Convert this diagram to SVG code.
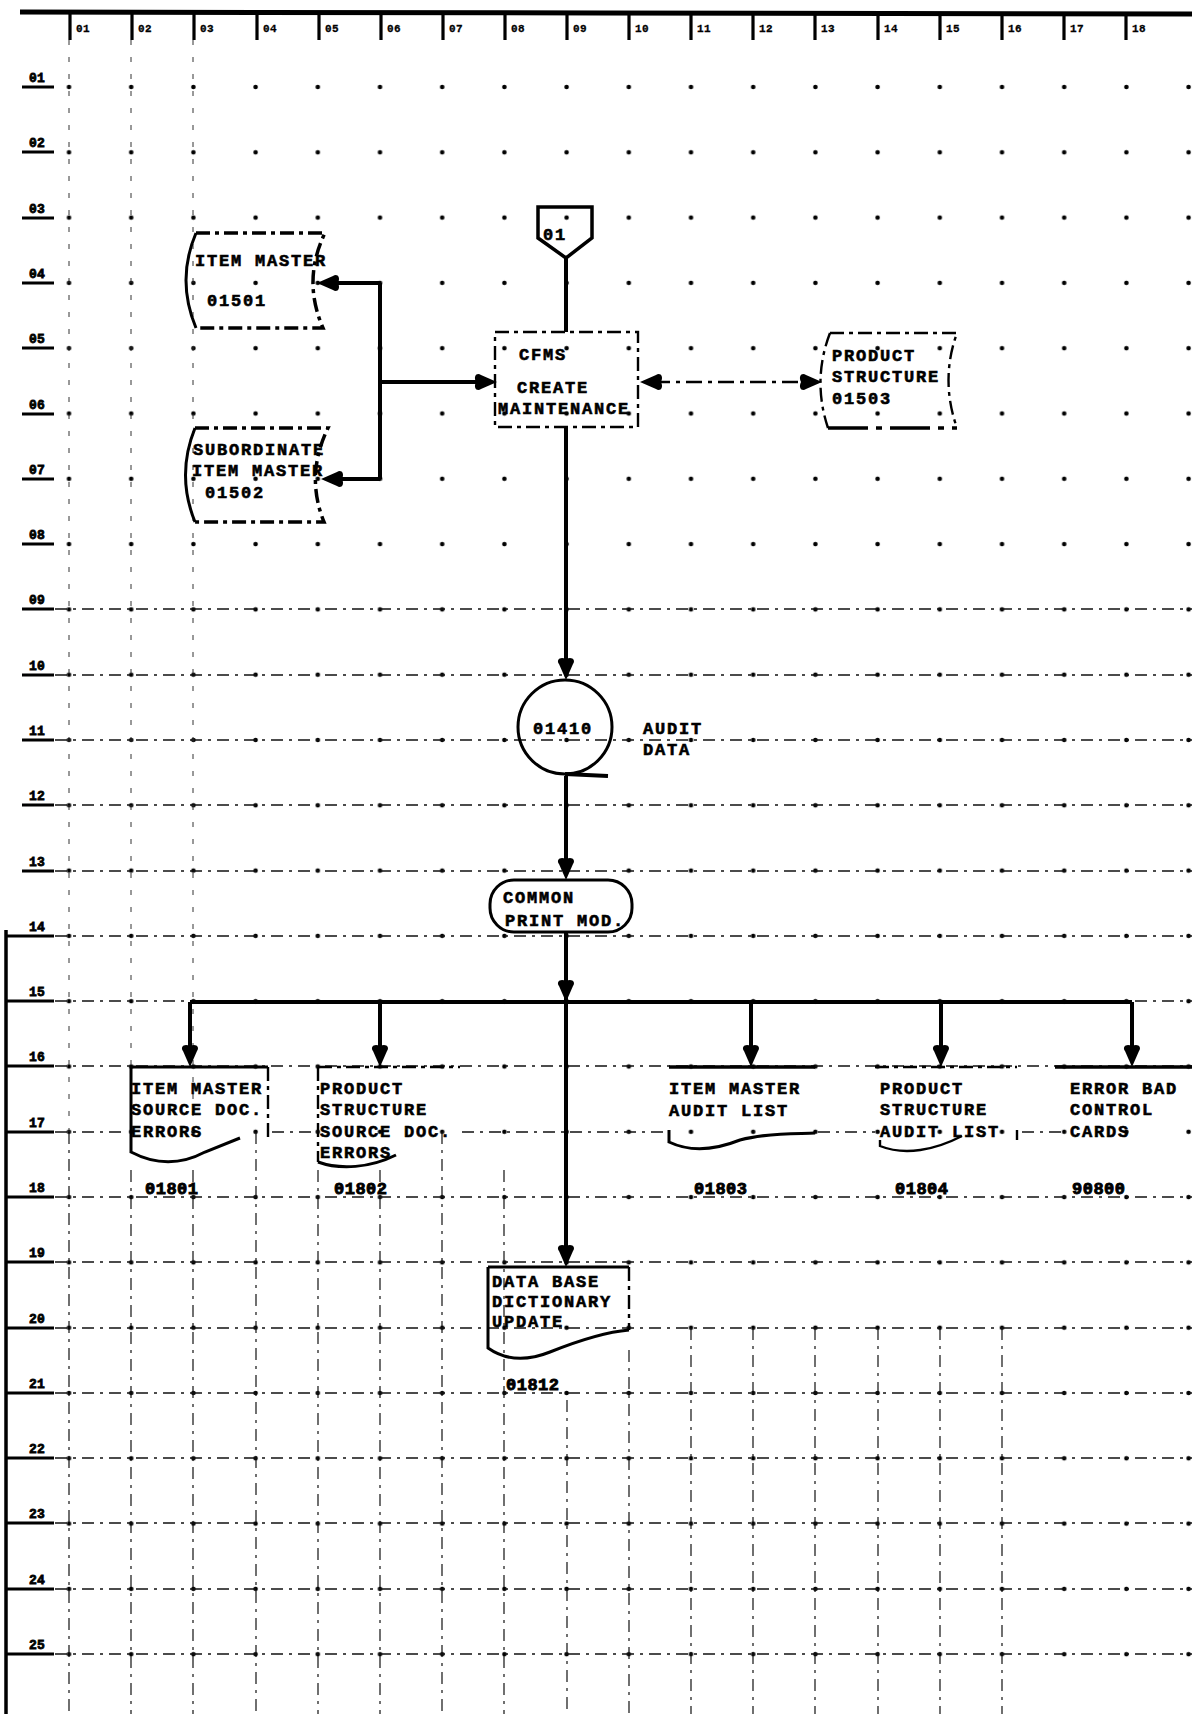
<svg xmlns="http://www.w3.org/2000/svg" width="1192" height="1714" viewBox="0 0 1192 1714">
<style>
.t{font-family:"Liberation Mono","DejaVu Sans Mono",monospace;font-weight:bold;font-size:17px;letter-spacing:1.8px;fill:#000;stroke:#000;stroke-width:0.6px}
.num{font-size:17px;letter-spacing:0.5px;stroke-width:0.9px}
.rl{font-size:13px;letter-spacing:0.3px;stroke-width:0.8px}
.cl{font-size:11px;letter-spacing:0.3px;stroke-width:0.3px}
.conn{stroke:#000;stroke-width:4;fill:none}
.dconn{stroke:#000;stroke-width:2.5;fill:none;stroke-dasharray:16 6 4 6}
.node{stroke:#000;stroke-width:2.4;fill:none}
.dash{stroke-dasharray:14 5 4 5}
.solid{stroke-width:3}
.thick{stroke-width:3.5}
.gh{stroke:#111;stroke-width:1.3;fill:none;stroke-dasharray:12 6 3 6}
.gv{stroke:#111;stroke-width:1.2;fill:none;stroke-dasharray:12 6 3 6}
.gvf{stroke:#333;stroke-width:1;fill:none;stroke-dasharray:5 12}
.ul{stroke:#000;stroke-width:2.8}
.tick{stroke:#000;stroke-width:3.2}
</style>
<defs>
<pattern id="dots" patternUnits="userSpaceOnUse" x="37.9" y="54.35" width="62.2" height="65.3">
<circle cx="31.1" cy="32.65" r="2.3" fill="#000"/>
</pattern>
<marker id="ah" viewBox="-3 -11 27 22" refX="8" refY="0" markerWidth="27" markerHeight="22" markerUnits="userSpaceOnUse" orient="auto-start-reverse">
<path d="M22,0 L6,-7 C2,-10 -2,-6 1,0 C-2,6 2,10 6,7 Z" fill="#000"/>
</marker>
</defs>
<rect width="1192" height="1714" fill="#fff"/>

<g id="grid">
<rect x="38" y="54" width="1154" height="1660" fill="url(#dots)"/>
<path class="gh" d="M55,609H1192M55,675H1192M55,740H1192M55,805H1192M55,871H1192M55,936H1192M55,1001H1192M55,1066H1192M55,1197H1192M55,1262H1192M55,1328H1192M55,1393H1192M55,1458H1192M55,1523H1192M55,1589H1192M55,1654H1192"/>
<path class="gh" d="M55,1132H126M272,1132H315M462,1132H665M818,1132H875M1022,1132H1066"/>
<path class="gvf" d="M69,40V1132M131,40V1132M193,40V1132"/>
<path class="gv" d="M69,1132V1714M131,1170V1714M193,1170V1714M256,1132V1714M318,1170V1714M380,1170V1714M442,1132V1714M504,1170V1714M567,1400V1714"/>
<path class="gv" d="M629,1350V1714M691,1328V1714M753,1328V1714M815,1328V1714M878,1328V1714M940,1328V1714M1002,1328V1714"/>
</g>

<g id="frame">
<path d="M20,12 L600,13 L1192,14" stroke="#000" stroke-width="5" fill="none"/>
<path d="M6,930 V1714" stroke="#000" stroke-width="3.5" fill="none"/>
<path class="tick" d="M70,12V40M132,12V40M194,12V40M257,12V40M319,12V40M381,12V40M443,12V40M505,12V40M567,12V40M629,12V40M691,12V40M753,12V40M815,12V40M878,12V40M940,12V40M1002,12V40M1064,12V40M1126,12V40"/>
<g class="t cl">
<text x="76" y="32">01</text><text x="138" y="32">02</text><text x="200" y="32">03</text><text x="263" y="32">04</text><text x="325" y="32">05</text><text x="387" y="32">06</text><text x="449" y="32">07</text><text x="511" y="32">08</text><text x="573" y="32">09</text><text x="635" y="32">10</text><text x="697" y="32">11</text><text x="759" y="32">12</text><text x="821" y="32">13</text><text x="884" y="32">14</text><text x="946" y="32">15</text><text x="1008" y="32">16</text><text x="1070" y="32">17</text><text x="1132" y="32">18</text>
</g>
<path class="ul" d="M22,87H54M22,152H54M22,218H54M22,283H54M22,348H54M22,414H54M22,479H54M22,544H54M22,609H54M22,675H54M22,740H54M22,805H54M22,871H54M6,936H54M6,1001H54M6,1066H54M6,1132H54M6,1197H54M6,1262H54M6,1328H54M6,1393H54M6,1458H54M6,1523H54M6,1589H54M6,1654H54"/>
<g class="t rl">
<text x="29" y="82">01</text><text x="29" y="147">02</text><text x="29" y="213">03</text><text x="29" y="278">04</text><text x="29" y="343">05</text><text x="29" y="409">06</text><text x="29" y="474">07</text><text x="29" y="539">08</text><text x="29" y="604">09</text><text x="29" y="670">10</text><text x="29" y="735">11</text><text x="29" y="800">12</text><text x="29" y="866">13</text><text x="29" y="931">14</text><text x="29" y="996">15</text><text x="29" y="1061">16</text><text x="29" y="1127">17</text><text x="29" y="1192">18</text><text x="29" y="1257">19</text><text x="29" y="1323">20</text><text x="29" y="1388">21</text><text x="29" y="1453">22</text><text x="29" y="1518">23</text><text x="29" y="1584">24</text><text x="29" y="1649">25</text>
</g>
</g>

<g id="connectors">
<path class="conn" d="M566,258V332"/>
<path class="conn" d="M380,283V479"/>
<path class="conn" d="M380,283H331" marker-end="url(#ah)"/>
<path class="conn" d="M380,479H335" marker-end="url(#ah)"/>
<path class="conn" d="M380,382H483" marker-end="url(#ah)"/>
<path class="dconn" d="M654,382H808" marker-start="url(#ah)" marker-end="url(#ah)"/>
<path class="conn" d="M566,427V666" marker-end="url(#ah)"/>
<path class="conn" d="M566,776V866" marker-end="url(#ah)"/>
<path class="conn" d="M566,932V988" marker-end="url(#ah)"/>
<path class="conn" d="M566,990V1253" marker-end="url(#ah)"/>
<path class="conn" d="M190,1002H1132"/>
<path class="conn" d="M190,1002V1053" marker-end="url(#ah)"/>
<path class="conn" d="M380,1002V1053" marker-end="url(#ah)"/>
<path class="conn" d="M751,1002V1053" marker-end="url(#ah)"/>
<path class="conn" d="M941,1002V1053" marker-end="url(#ah)"/>
<path class="conn" d="M1132,1002V1053" marker-end="url(#ah)"/>
</g>

<g id="n-connector-01">
<path class="node thick" d="M538,207H592V238L566,258L538,238Z"/>
<text class="t" x="543" y="240">01</text>
</g>

<g id="n-item-master">
<path class="node dash thick" d="M196,233H325Q302,280 323,328H196"/>
<path class="node solid" d="M196,233Q176,280 196,328"/>
<text class="t" x="195" y="266">ITEM MASTER</text>
<text class="t" x="207" y="306">01501</text>
</g>

<g id="n-subordinate">
<path class="node dash thick" d="M195,428H328Q305,475 324,522H195"/>
<path class="node solid" d="M195,428Q176,475 195,522"/>
<text class="t" x="193" y="455">SUBORDINATE</text>
<text class="t" x="192" y="476">ITEM MASTER</text>
<text class="t" x="205" y="498">01502</text>
</g>

<g id="n-cfms">
<rect class="node dash" x="495" y="332" width="143" height="95"/>
<text class="t" x="519" y="360">CFMS</text>
<text class="t" x="517" y="393">CREATE</text>
<text class="t" x="498" y="414">MAINTENANCE</text>
</g>

<g id="n-product-structure">
<path class="node dash" d="M830,333H957Q940,380 957,428"/>
<path class="node dash" d="M830,333Q812,380 828,428"/>
<path class="node thick" d="M828,428H957" stroke-dasharray="40 8 6 8"/>
<text class="t" x="832" y="361">PRODUCT</text>
<text class="t" x="832" y="382">STRUCTURE</text>
<text class="t" x="832" y="404">01503</text>
</g>

<g id="n-audit-data">
<circle class="node solid" cx="565" cy="727" r="47"/>
<path class="conn" d="M565,774L608,776"/>
<text class="t" x="563" y="734" text-anchor="middle">01410</text>
<text class="t" x="643" y="734">AUDIT</text>
<text class="t" x="643" y="755">DATA</text>
</g>

<g id="n-common-print">
<rect class="node solid" x="490" y="880" width="142" height="52" rx="24" ry="24"/>
<text class="t" x="503" y="903">COMMON</text>
<text class="t" x="505" y="926">PRINT MOD.</text>
</g>

<g id="n-doc-01801">
<path class="node dash" d="M268,1067V1140"/>
<path class="node solid" d="M131,1067H268M131,1067V1152C150,1162 175,1168 205,1152L240,1138"/>
<text class="t" x="131" y="1094">ITEM MASTER</text>
<text class="t" x="131" y="1115">SOURCE DOC.</text>
<text class="t" x="131" y="1137">ERRORS</text>
<text class="t num" x="145" y="1194">01801</text>
</g>

<g id="n-doc-01802">
<path class="node dash" d="M318,1067H460M318,1067V1162"/>
<path class="node solid" d="M318,1162C340,1170 370,1168 396,1155"/>
<text class="t" x="320" y="1094">PRODUCT</text>
<text class="t" x="320" y="1115">STRUCTURE</text>
<text class="t" x="320" y="1137">SOURCE DOC.</text>
<text class="t" x="320" y="1158">ERRORS</text>
<text class="t num" x="334" y="1194">01802</text>
</g>

<g id="n-doc-01803">
<path class="node thick" d="M669,1067H815"/>
<path class="node solid" d="M669,1130V1142C690,1152 715,1150 740,1140C770,1132 800,1134 815,1133"/>
<text class="t" x="669" y="1094">ITEM MASTER</text>
<text class="t" x="669" y="1116">AUDIT LIST</text>
<text class="t num" x="694" y="1194">01803</text>
</g>

<g id="n-doc-01804">
<path class="node dash" d="M875,1067H1017M1017,1130V1140"/>
<path class="node" d="M880,1140V1146C905,1156 935,1150 962,1136"/>
<text class="t" x="880" y="1094">PRODUCT</text>
<text class="t" x="880" y="1115">STRUCTURE</text>
<text class="t" x="880" y="1137">AUDIT LIST</text>
<text class="t num" x="895" y="1194">01804</text>
</g>

<g id="n-error-cards">
<path class="node thick" d="M1055,1067H1192"/>
<text class="t" x="1070" y="1094">ERROR BAD</text>
<text class="t" x="1070" y="1115">CONTROL</text>
<text class="t" x="1070" y="1137">CARDS</text>
<text class="t num" x="1072" y="1194">90800</text>
</g>

<g id="n-data-base">
<path class="node solid" d="M488,1267H629M488,1267V1348C505,1360 525,1362 550,1352C580,1340 605,1332 629,1330"/>
<path class="node dash" d="M629,1267V1330"/>
<text class="t" x="492" y="1287">DATA BASE</text>
<text class="t" x="492" y="1307">DICTIONARY</text>
<text class="t" x="492" y="1327">UPDATE</text>
<text class="t num" x="506" y="1390">01812</text>
</g>
</svg>
